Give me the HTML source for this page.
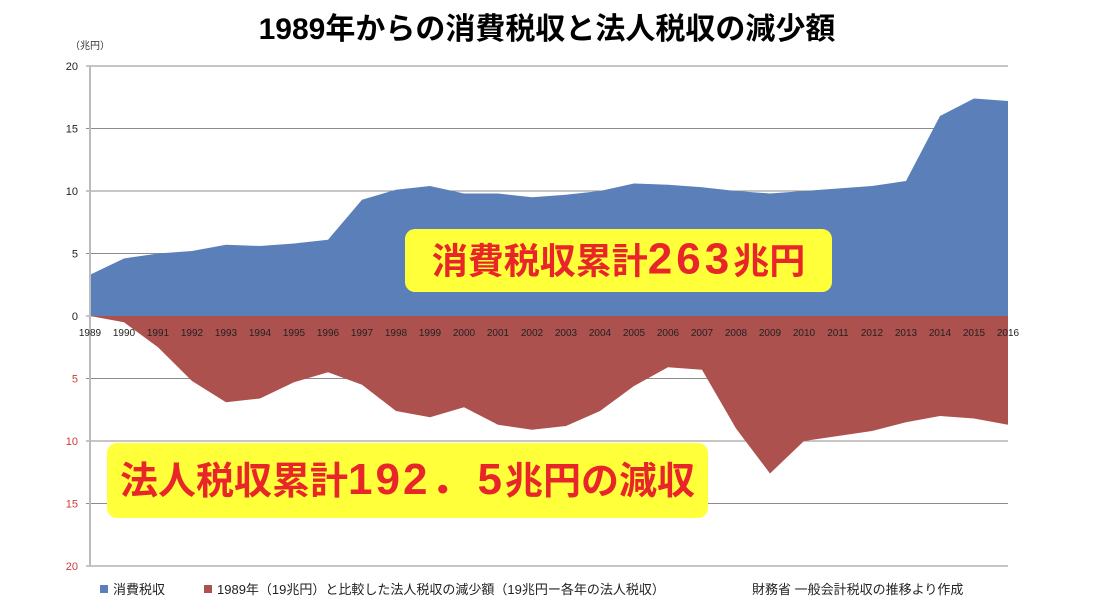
<!DOCTYPE html>
<html><head><meta charset="utf-8">
<style>
body{margin:0;background:#fff;width:1093px;height:614px;overflow:hidden;font-family:"Liberation Sans","Noto Sans CJK JP",sans-serif;}
</style></head><body>
<svg width="1093" height="614" id="chart" style="position:absolute;left:0;top:0">
<text x="547" y="39" text-anchor="middle" font-size="30" font-weight="bold" fill="#000" font-family="Liberation Sans, Noto Sans CJK JP, sans-serif">1989年からの消費税収と法人税収の減少額</text>
<text x="70" y="49" font-size="10" fill="#333" font-family="Liberation Sans, Noto Sans CJK JP, sans-serif">（兆円）</text>
<g id="grid"></g><g id="areas"></g><g id="axes"></g>
</svg>
<script>
const years=[1989,1990,1991,1992,1993,1994,1995,1996,1997,1998,1999,2000,2001,2002,2003,2004,2005,2006,2007,2008,2009,2010,2011,2012,2013,2014,2015,2016];
const consumptionTax=[3.3,4.6,5.0,5.2,5.7,5.6,5.8,6.1,9.3,10.1,10.4,9.8,9.8,9.5,9.7,10.0,10.6,10.5,10.3,10.0,9.8,10.0,10.2,10.4,10.8,16.0,17.4,17.2];
const corpTaxDecrease=[0,0.5,2.5,5.2,6.9,6.6,5.3,4.5,5.5,7.6,8.1,7.3,8.7,9.1,8.8,7.6,5.6,4.1,4.3,9.0,12.6,10.0,9.6,9.2,8.5,8.0,8.2,8.7];
const yTicks=[20,15,10,5,0,-5,-10,-15,-20];
const NS="http://www.w3.org/2000/svg";
const x0=90,x1=1008,yZero=316,pxu=12.5;
const xs=i=>x0+(x1-x0)*i/(years.length-1);
const ys=v=>yZero-v*pxu;
function mk(t,a,p){const e=document.createElementNS(NS,t);for(const k in a)e.setAttribute(k,a[k]);p.appendChild(e);return e;}
const grid=document.getElementById('grid'),areas=document.getElementById('areas'),axes=document.getElementById('axes');
yTicks.forEach(t=>{
 const l=mk('line',{x1:x0-4,x2:x1,y1:ys(t),y2:ys(t),stroke:'#8c8c8c','stroke-width':1},grid);
 
 
 const tx=mk('text',{x:78,y:ys(t)+4,'text-anchor':'end','font-size':11,fill:t<0?'#d23a3a':'#222'},axes);
 tx.textContent=Math.abs(t);
 
 
});
const yax=mk('line',{x1:x0,x2:x0,y1:ys(20),y2:ys(-20),stroke:'#bbb','stroke-width':2},axes);


let d='M'+xs(0)+','+yZero;
consumptionTax.forEach((v,i)=>d+=' L'+xs(i)+','+ys(v));
d+=' L'+xs(years.length-1)+','+yZero+' Z';
const pb=mk('path',{d:d,fill:'#5b7fb8'},areas);


let d2='M'+xs(0)+','+yZero;
corpTaxDecrease.forEach((v,i)=>d2+=' L'+xs(i)+','+ys(-v));
d2+=' L'+xs(years.length-1)+','+yZero+' Z';
const pr=mk('path',{d:d2,fill:'#ad514f'},areas);


years.forEach((y,i)=>{
 const t=mk('text',{x:xs(i),y:336,'text-anchor':'middle','font-size':10,fill:'#222'},axes);
 t.textContent=y;
 
 
});
function callout(x,y,w,h,html,name,fs){
 const g=mk('g',{},axes);
 
 
 mk('rect',{x:x,y:y,width:w,height:h,rx:10,fill:'#ffff3a'},g);
 const t=mk('text',{x:x+w/2,y:y+h/2+fs*0.36,'text-anchor':'middle','font-size':fs,'font-weight':'bold',fill:'#e8262a','font-family':'Liberation Sans, Noto Sans CJK JP, sans-serif'},g);
 t.innerHTML=html;
}
callout(405,229,427,63,'消費税収累計<tspan font-size="44" letter-spacing="4">263</tspan>兆円','consumption-total-callout',36);
callout(107,443,601,75,'法人税収累計<tspan font-size="44" letter-spacing="3">192．5</tspan>兆円の減収','corporate-total-callout',38);
const lg=mk('g',{'font-size':13,fill:'#222','font-family':'Liberation Sans, Noto Sans CJK JP, sans-serif'},axes);


mk('rect',{x:100,y:585,width:8,height:8,fill:'#5b7fb8'},lg);
let t1=mk('text',{x:113,y:594},lg);t1.textContent='消費税収';


mk('rect',{x:204,y:585,width:8,height:8,fill:'#ad514f'},lg);
let t2=mk('text',{x:217,y:594},lg);t2.textContent='1989年（19兆円）と比較した法人税収の減少額（19兆円ー各年の法人税収）';


let t3=mk('text',{x:752,y:594},lg);t3.textContent='財務省 一般会計税収の推移より作成';


</script>
</body></html>
